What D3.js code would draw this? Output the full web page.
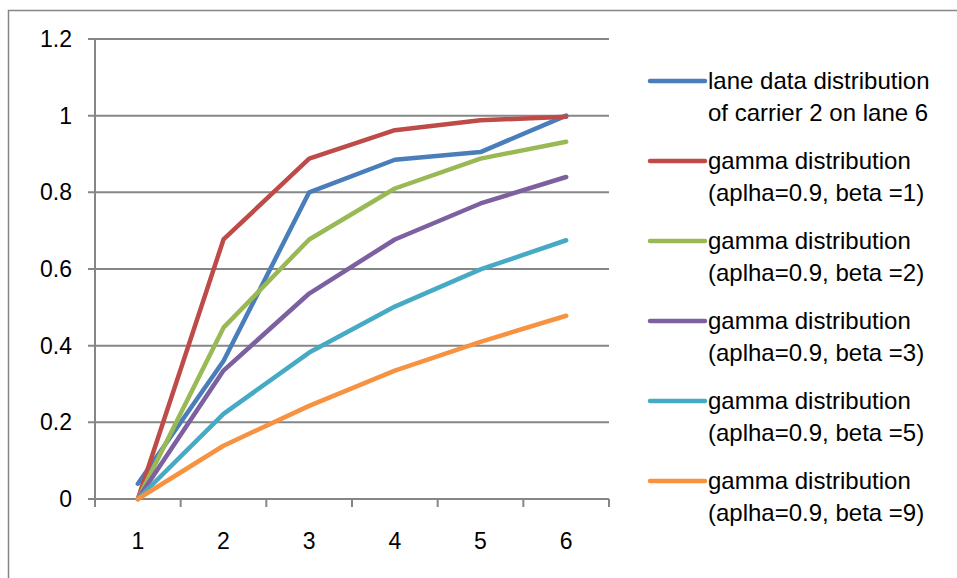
<!DOCTYPE html>
<html>
<head>
<meta charset="utf-8">
<script src="https://cdn.jsdelivr.net/npm/d3@7"></script>
<style>
  body { margin: 0; background: #fff; }
  text { font-family: "Liberation Sans", Arial, sans-serif; fill: #000; }
</style>
</head>
<body>
<div id="viz-container"></div>
<script>
// categories on the x axis
let categories = ["1", "2", "3", "4", "5", "6"];
let yTicks = [0, 0.2, 0.4, 0.6, 0.8, 1, 1.2];

// series values
let laneData = [0.04, 0.36, 0.80, 0.885, 0.905, 1.0];
let gammaBeta1 = [0, 0.677, 0.888, 0.962, 0.988, 0.997];
let gammaBeta2 = [0, 0.447, 0.677, 0.81, 0.888, 0.932];
let gammaBeta3 = [0, 0.335, 0.536, 0.677, 0.771, 0.84];
let gammaBeta5 = [0, 0.222, 0.382, 0.502, 0.599, 0.675];
let gammaBeta9 = [0, 0.139, 0.243, 0.335, 0.41, 0.478];

let seriesNames = [
  ["lane data distribution", "of carrier 2 on lane 6"],
  ["gamma distribution", "(aplha=0.9, beta =1)"],
  ["gamma distribution", "(aplha=0.9, beta =2)"],
  ["gamma distribution", "(aplha=0.9, beta =3)"],
  ["gamma distribution", "(aplha=0.9, beta =5)"],
  ["gamma distribution", "(aplha=0.9, beta =9)"]
];
let seriesValues = [laneData, gammaBeta1, gammaBeta2, gammaBeta3, gammaBeta5, gammaBeta9];
let colors = ["#4A7EBB", "#BE4B48", "#98B954", "#7D60A0", "#46AAC5", "#F69240"];

let viz = d3.select("#viz-container")
  .append("svg")
    .attr("width", 957)
    .attr("height", 578);

// outer chart border
viz.append("rect")
  .attr("x", 8.5).attr("y", 10.5)
  .attr("width", 1000).attr("height", 1000)
  .attr("fill", "none")
  .attr("stroke", "#868686")
  .attr("stroke-width", 1.5);

let plot = { left: 95, right: 609, top: 39, bottom: 499 };

let x = d3.scaleBand()
  .domain(categories)
  .range([plot.left, plot.right]);

let y = d3.scaleLinear()
  .domain([0, 1.2])
  .range([plot.bottom, plot.top]);

// gridlines
viz.append("g")
  .selectAll("line")
  .data(yTicks)
  .join("line")
    .attr("x1", plot.left - 7)
    .attr("x2", plot.right)
    .attr("y1", d => y(d))
    .attr("y2", d => y(d))
    .attr("stroke", "#868686")
    .attr("stroke-width", 2);

// y axis line
viz.append("line")
  .attr("x1", plot.left).attr("x2", plot.left)
  .attr("y1", plot.top).attr("y2", plot.bottom)
  .attr("stroke", "#868686")
  .attr("stroke-width", 2);

// y tick labels
viz.append("g")
  .selectAll("text")
  .data(yTicks)
  .join("text")
    .attr("x", 72)
    .attr("y", d => y(d))
    .attr("dy", "0.35em")
    .attr("text-anchor", "end")
    .attr("font-size", 23)
    .text(d => d3.format("")(d));

// x tick marks at band boundaries
let boundaries = categories.map(c => x(c)).concat([plot.right]);
viz.append("g")
  .selectAll("line")
  .data(boundaries)
  .join("line")
    .attr("x1", d => d).attr("x2", d => d)
    .attr("y1", plot.bottom).attr("y2", plot.bottom + 8)
    .attr("stroke", "#868686")
    .attr("stroke-width", 2);

// x tick labels
viz.append("g")
  .selectAll("text")
  .data(categories)
  .join("text")
    .attr("x", d => x(d) + x.bandwidth() / 2)
    .attr("y", 541)
    .attr("dy", "0.35em")
    .attr("text-anchor", "middle")
    .attr("font-size", 23)
    .text(d => d);

// lines
let line = d3.line()
  .x((d, i) => x(categories[i]) + x.bandwidth() / 2)
  .y(d => y(d));

viz.append("g")
  .selectAll("path")
  .data(seriesValues)
  .join("path")
    .attr("d", d => line(d))
    .attr("fill", "none")
    .attr("stroke", (d, i) => colors[i])
    .attr("stroke-width", 4.5)
    .attr("stroke-linejoin", "round")
    .attr("stroke-linecap", "round");

// legend
let legend = viz.append("g")
  .selectAll("g")
  .data(seriesNames)
  .join("g")
    .attr("transform", (d, i) => "translate(0," + (81 + i * 80) + ")");

legend.append("line")
  .attr("x1", 650).attr("x2", 705)
  .attr("y1", 0).attr("y2", 0)
  .attr("stroke", (d, i) => colors[i])
  .attr("stroke-width", 4.5)
  .attr("stroke-linecap", "round");

legend.append("text")
  .attr("x", 708)
  .attr("y", 0)
  .attr("dy", "0.35em")
  .attr("font-size", 24)
  .text(d => d[0]);

legend.append("text")
  .attr("x", 708)
  .attr("y", 32)
  .attr("dy", "0.35em")
  .attr("font-size", 24)
  .text(d => d[1]);
</script>
</body>
</html>
